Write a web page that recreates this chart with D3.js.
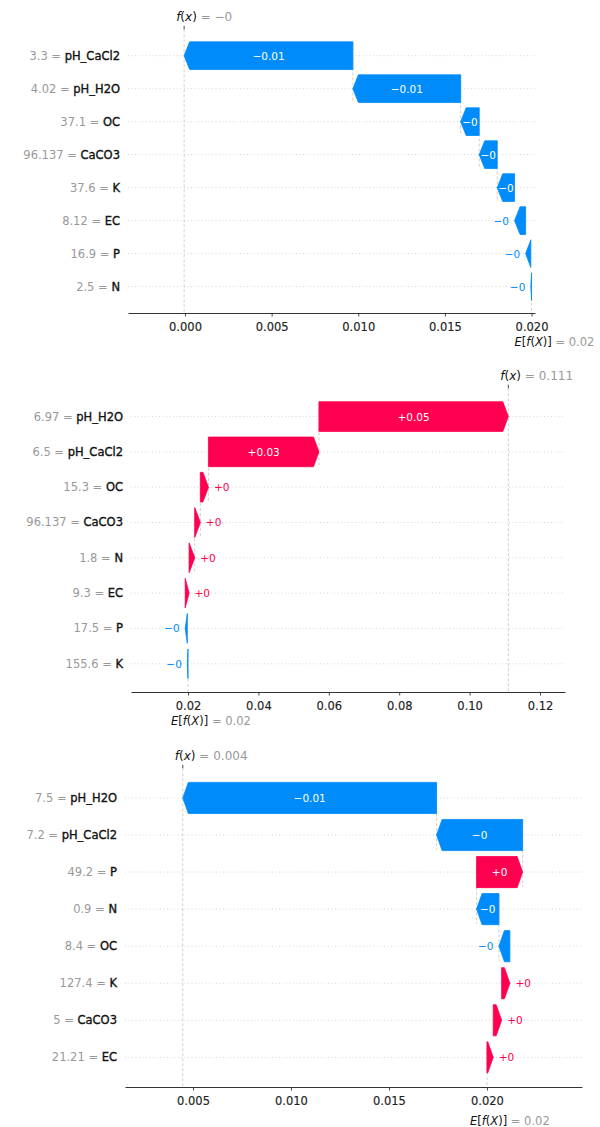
<!DOCTYPE html>
<html>
<head>
<meta charset="utf-8">
<script src="https://cdn.jsdelivr.net/npm/d3@7"></script>
<style>
  html, body { margin: 0; padding: 0; background: #fff; }
  svg { display: block; font-family: "DejaVu Sans", sans-serif; }
</style>
</head>
<body>
<svg id="chart" width="600" height="1127"></svg>
<script>
// ---- Sample 1 ----
const features1 = ["pH_CaCl2", "pH_H2O", "OC", "CaCO3", "K", "EC", "P", "N"];
const featureValues1 = ["3.3", "4.02", "37.1", "96.137", "37.6", "8.12", "16.9", "2.5"];
const shapValues1 = [-0.00974, -0.00622, -0.00107, -0.00104, -0.00100, -0.00064, -0.00030, -0.00004];
const baseValue1 = 0.02;
const ticks1 = [0, 0.005, 0.01, 0.015, 0.02];

// ---- Sample 2 ----
const features2 = ["pH_H2O", "pH_CaCl2", "OC", "CaCO3", "N", "EC", "P", "K"];
const featureValues2 = ["6.97", "6.5", "15.3", "96.137", "1.8", "9.3", "17.5", "155.6"];
const shapValues2 = [0.0538, 0.0314, 0.0023, 0.0016, 0.0016, 0.0011, -0.0006, -0.0002];
const baseValue2 = 0.02;
const ticks2 = [0.02, 0.04, 0.06, 0.08, 0.10, 0.12];

// ---- Sample 3 ----
const features3 = ["pH_H2O", "pH_CaCl2", "P", "N", "OC", "K", "CaCO3", "EC"];
const featureValues3 = ["7.5", "7.2", "49.2", "0.9", "8.4", "127.4", "5", "21.21"];
const shapValues3 = [-0.01295, -0.00439, 0.00235, -0.00114, -0.00056, 0.00042, 0.00043, 0.00032];
const baseValue3 = 0.02;
const ticks3 = [0.005, 0.01, 0.015, 0.02];

const RED = "#ff0051";
const BLUE = "#008bfb";
const GRAY = "#999999";

// Layout of the three stacked waterfall panels
const panels = [
  { features: features1, featureValues: featureValues1, shap: shapValues1, base: baseValue1,
    ticks: ticks1, tickFormat: ".3f", top: 29.3, bottom: 313, left: 128, right: 535,
    xDomain: [-0.00329, 0.0202], eOffset: 29 },
  { features: features2, featureValues: featureValues2, shap: shapValues2, base: baseValue2,
    ticks: ticks2, tickFormat: ".2f", top: 388.3, bottom: 692, left: 131, right: 565,
    xDomain: [0.0038, 0.1271], eOffset: 29 },
  { features: features3, featureValues: featureValues3, shap: shapValues3, base: baseValue3,
    ticks: ticks3, tickFormat: ".3f", top: 768.3, bottom: 1087, left: 125, right: 582,
    xDomain: [0.00153, 0.02485], eOffset: 34 }
];

// shap-style number formatting: fixed digits, trailing zeros trimmed, true minus sign
function fmtValue(v, digits, plus) {
  let s = v.toFixed(digits);
  if (plus && v >= 0) s = "+" + s;
  if (s.includes(".")) s = s.replace(/0+$/, "").replace(/\.$/, "");
  return s.replace("-", "\u2212");
}

const svg = d3.select("#chart");

panels.forEach(p => {
  const g = svg.append("g");
  const n = p.features.length;
  const x = d3.scaleLinear().domain(p.xDomain).range([p.left, p.right]);
  const y = d3.scalePoint().domain(p.features).range([p.top, p.bottom]).padding(0.8);
  const step = y.step();
  const barH = step * 0.84;
  const fx = p.base + d3.sum(p.shap);

  // dotted row guides
  g.selectAll("line.grid").data(p.features).join("line")
    .attr("x1", p.left).attr("x2", p.right)
    .attr("y1", d => y(d)).attr("y2", d => y(d))
    .attr("stroke", "#cccccc").attr("stroke-width", 0.8)
    .attr("stroke-dasharray", "1,2.5");

  // running positions from f(x) back to the base value
  let loc = fx;
  const bars = p.features.map((f, i) => {
    const v = p.shap[i];
    loc -= v;
    return { feature: f, value: v, start: loc, end: loc + v, i };
  });

  // vertical reference lines at f(x) and at the base value
  g.append("line")
    .attr("x1", x(fx)).attr("x2", x(fx))
    .attr("y1", p.top).attr("y2", p.bottom)
    .attr("stroke", "#bbbbbb").attr("stroke-width", 0.7)
    .attr("stroke-dasharray", "3,2");
  g.append("line")
    .attr("x1", x(p.base)).attr("x2", x(p.base))
    .attr("y1", p.bottom - (p.bottom - p.top) / n).attr("y2", p.bottom)
    .attr("stroke", "#bbbbbb").attr("stroke-width", 0.7)
    .attr("stroke-dasharray", "3,2");

  // connectors between consecutive bars (upper rows)
  g.selectAll("line.conn").data(bars.filter(b => b.i + 4 < n)).join("line")
    .attr("x1", d => x(d.start)).attr("x2", d => x(d.start))
    .attr("y1", d => y(d.feature) - 0.4 * step)
    .attr("y2", d => y(d.feature) + 1.4 * step)
    .attr("stroke", "#bbbbbb").attr("stroke-width", 0.7)
    .attr("stroke-dasharray", "3,2");

  // arrow-shaped bars
  const headLen = 5.5;
  g.selectAll("path.bar").data(bars).join("path")
    .attr("d", d => {
      const x0 = x(d.start), x1 = x(d.end);
      const dir = x1 >= x0 ? 1 : -1;
      const L = Math.abs(x1 - x0);
      const hl = Math.min(L, headLen);
      const xb = x1 - dir * hl;
      const yc = y(d.feature), h = barH / 2;
      return `M${x0},${yc - h}L${xb},${yc - h}L${x1},${yc}L${xb},${yc + h}L${x0},${yc + h}Z`;
    })
    .attr("fill", d => d.value >= 0 ? RED : BLUE)
    .attr("stroke", d => d.value >= 0 ? RED : BLUE)
    .attr("stroke-width", 0.8)
    .attr("stroke-linejoin", "round");

  // value labels: inside the bar when they fit, otherwise beside it
  bars.forEach(d => {
    const x0 = x(d.start), x1 = x(d.end);
    const L = Math.abs(x1 - x0);
    const t = g.append("text")
      .attr("y", y(d.feature))
      .attr("dominant-baseline", "central")
      .attr("font-size", 10.5)
      .text(fmtValue(d.value, 2, true));
    const w = t.node().getComputedTextLength();
    if (w < L) {
      t.attr("x", (x0 + x1) / 2).attr("text-anchor", "middle").attr("fill", "#ffffff");
    } else if (d.value >= 0) {
      t.attr("x", Math.max(x0, x1) + 5.5).attr("text-anchor", "start").attr("fill", RED);
    } else {
      t.attr("x", Math.min(x0, x1) - 5.5).attr("text-anchor", "end").attr("fill", BLUE);
    }
  });

  // feature labels "value = name"
  g.selectAll("text.ylab").data(p.features).join("text")
    .attr("x", p.left - 8)
    .attr("y", d => y(d))
    .attr("text-anchor", "end")
    .attr("dominant-baseline", "central")
    .attr("font-size", 11.5)
    .each(function (d, i) {
      const t = d3.select(this);
      t.append("tspan").attr("fill", GRAY).text(p.featureValues[i] + " = ");
      t.append("tspan").attr("fill", "#111111")
        .attr("stroke", "#111111").attr("stroke-width", 0.35).text(d);
    });

  // bottom axis
  const axis = d3.axisBottom(x)
    .tickValues(p.ticks)
    .tickFormat(d3.format(p.tickFormat))
    .tickSize(3.5).tickSizeOuter(0).tickPadding(6);
  const ax = g.append("g").attr("transform", `translate(0,${p.bottom})`).call(axis);
  ax.select(".domain").attr("stroke", "#333333").attr("stroke-width", 1.1);
  ax.selectAll(".tick line").attr("stroke", "#333333").attr("stroke-width", 0.9);
  ax.selectAll(".tick text").attr("fill", "#222222").attr("font-size", 11.5)
    .attr("stroke", "#222222").attr("stroke-width", 0.15)
    .attr("font-family", "DejaVu Sans, sans-serif");

  // f(x) marker on top
  g.append("line")
    .attr("x1", x(fx)).attr("x2", x(fx))
    .attr("y1", p.top - 3.5).attr("y2", p.top)
    .attr("stroke", "#333333").attr("stroke-width", 0.9);
  const ft = g.append("text")
    .attr("x", x(fx) - 8).attr("y", p.top - 12)
    .attr("dominant-baseline", "central")
    .attr("font-size", 12).attr("fill", "#111111");
  ft.append("tspan").attr("font-style", "italic").text("f");
  ft.append("tspan").text("(");
  ft.append("tspan").attr("font-style", "italic").text("x");
  ft.append("tspan").text(")");
  ft.append("tspan").attr("fill", GRAY).text(" = " + fmtValue(fx, 3, false));

  // E[f(X)] label below the axis
  const et = g.append("text")
    .attr("x", x(p.base) - 17).attr("y", p.bottom + p.eOffset)
    .attr("dominant-baseline", "central")
    .attr("font-size", 11.5).attr("fill", "#111111");
  et.append("tspan").attr("font-style", "italic").text("E");
  et.append("tspan").text("[");
  et.append("tspan").attr("font-style", "italic").text("f");
  et.append("tspan").text("(");
  et.append("tspan").attr("font-style", "italic").text("X");
  et.append("tspan").text(")]");
  et.append("tspan").attr("fill", GRAY).text(" = " + fmtValue(p.base, 3, false));
});
</script>
</body>
</html>
